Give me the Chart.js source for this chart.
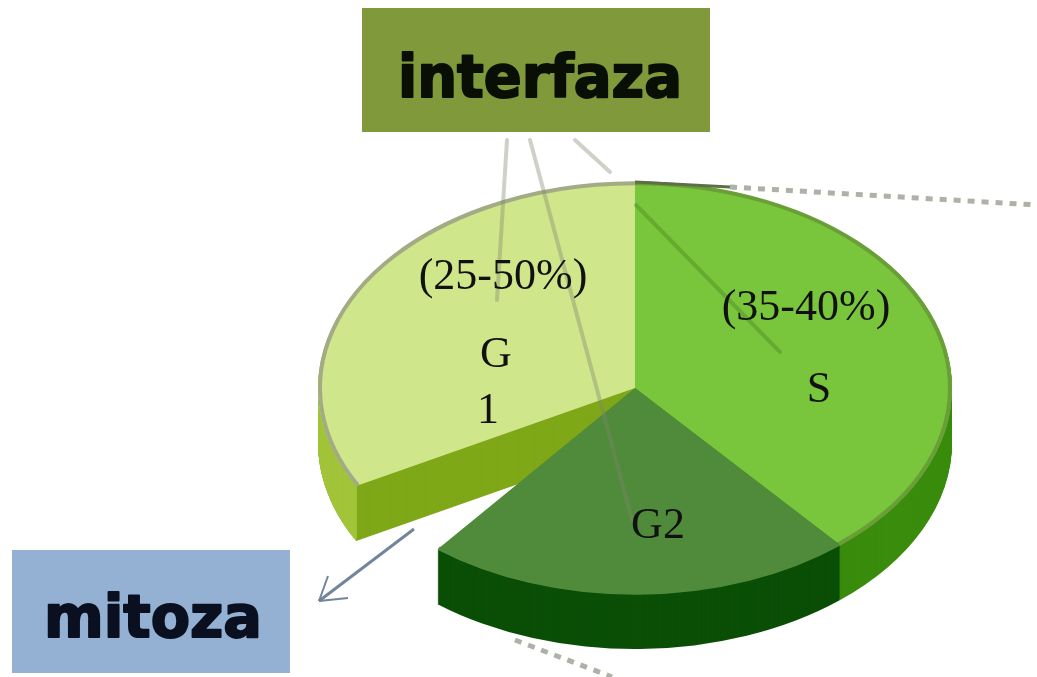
<!DOCTYPE html>
<html>
<head>
<meta charset="utf-8">
<title>interfaza / mitoza</title>
<script src="https://cdn.jsdelivr.net/npm/chart.js@4"></script>
<style>
    html, body { margin: 0; padding: 0; background: #fff; }
    canvas { display: block; filter: blur(0.7px); }
</style>
</head>
<body>
<canvas id="phases" width="1037" height="677"></canvas>
<script>
// data (share of the circle, clockwise from the top)
const phases = ['S', 'G2', 'mitoza', 'G1'];
const shares = [38.8, 21.9, 6.4, 32.9];

const topColors = ['#79c63d', '#4f8b3a', 'rgba(0,0,0,0)', '#cfe68b'];
const wallColors = ['#3a8c0c', '#0b4f07', null, '#7fa818'];
const rimColors = ['#6a9f38', '#4f8b3a', null, '#a3ab84'];
const g1OuterWall = '#a2c43a';

// the flat pie gets squashed and moved here, so it looks tilted
const pieX = 635;
const pieY = 388;
const squash = 206 / 317;
const depth = 55;

function tilt(ctx, arc, drop) {
    ctx.translate(pieX, pieY + drop);
    ctx.scale(1, squash);
    ctx.translate(-arc.x, -arc.y);
}

function sector(ctx, arc) {
    const p = arc.getProps(['x', 'y', 'startAngle', 'endAngle', 'outerRadius']);
    ctx.beginPath();
    ctx.moveTo(p.x, p.y);
    ctx.arc(p.x, p.y, p.outerRadius, p.startAngle, p.endAngle);
    ctx.closePath();
}

function stack(ctx, arc, color) {
    ctx.fillStyle = color;
    for (let drop = depth; drop > 0; drop--) {
        ctx.save();
        tilt(ctx, arc, drop);
        sector(ctx, arc);
        ctx.fill();
        ctx.restore();
    }
}

function line(ctx, x1, y1, x2, y2) {
    ctx.beginPath();
    ctx.moveTo(x1, y1);
    ctx.lineTo(x2, y2);
    ctx.stroke();
}

const tiltedPie = {
    id: 'tiltedPie',
    beforeDatasetsDraw(chart) {
        const ctx = chart.ctx;
        const arcs = chart.getDatasetMeta(0).data;

        // side walls: G1 first because it sits behind the others
        [3, 0, 1].forEach((i) => stack(ctx, arcs[i], wallColors[i]));

        // the outer part of the G1 wall is lighter than its cut face
        const g1 = arcs[3].getProps(['startAngle', 'outerRadius']);
        const cornerX = pieX + g1.outerRadius * Math.cos(g1.startAngle);
        ctx.save();
        ctx.beginPath();
        ctx.rect(0, 0, cornerX, chart.height);
        ctx.clip();
        stack(ctx, arcs[3], g1OuterWall);
        ctx.restore();

        ctx.save();
        tilt(ctx, arcs[0], 0);
    },
    afterDatasetsDraw(chart) {
        const ctx = chart.ctx;
        const arcs = chart.getDatasetMeta(0).data;
        ctx.restore();

        // rim on the top face
        arcs.forEach((arc, i) => {
            if (!rimColors[i]) return;
            ctx.save();
            tilt(ctx, arc, 0);
            const p = arc.getProps(['x', 'y', 'startAngle', 'endAngle', 'outerRadius']);
            ctx.beginPath();
            ctx.arc(p.x, p.y, p.outerRadius - 2, p.startAngle, p.endAngle);
            ctx.restore();
            ctx.strokeStyle = rimColors[i];
            ctx.lineWidth = 4;
            ctx.stroke();
        });
    }
};

const annotations = {
    id: 'annotations',
    afterDraw(chart) {
        const ctx = chart.ctx;
        ctx.save();

        // leader lines from the interfaza box
        ctx.lineCap = 'round';
        ctx.lineWidth = 4;
        ctx.strokeStyle = 'rgba(125,135,110,0.38)';
        line(ctx, 507, 140, 497, 300);
        line(ctx, 530, 140, 632, 520);
        line(ctx, 575, 140, 610, 172);
        ctx.strokeStyle = 'rgba(70,130,30,0.4)';
        line(ctx, 636, 205, 780, 352);

        // dotted lines running out of the picture
        ctx.lineCap = 'butt';
        ctx.strokeStyle = '#5f6d48';
        ctx.lineWidth = 3;
        line(ctx, 635, 182, 730, 187);
        ctx.lineWidth = 5;
        ctx.setLineDash([7, 7]);
        ctx.strokeStyle = '#aeb1a8';
        line(ctx, 730, 187, 1037, 205);
        line(ctx, 515, 640, 612, 677);
        ctx.setLineDash([]);

        // arrow towards the mitoza box
        ctx.lineWidth = 3;
        ctx.strokeStyle = '#72859a';
        line(ctx, 414, 529, 319, 601);
        ctx.lineWidth = 2;
        line(ctx, 319, 601, 328, 576);
        line(ctx, 319, 601, 348, 598);

        // boxes
        ctx.fillStyle = '#80993a';
        ctx.fillRect(362, 8, 348, 124);
        ctx.fillStyle = '#94b1d3';
        ctx.fillRect(12, 550, 278, 123);

        ctx.textAlign = 'center';
        ctx.textBaseline = 'alphabetic';
        ctx.lineJoin = 'round';
        ctx.lineWidth = 2;
        ctx.font = 'bold 58px "DejaVu Sans"';
        ctx.fillStyle = ctx.strokeStyle = '#0a0f06';
        ctx.fillText('interfaza', 540, 97, 284);
        ctx.strokeText('interfaza', 540, 97, 284);
        ctx.fillStyle = ctx.strokeStyle = '#0a1020';
        ctx.fillText('mitoza', 153, 637, 218);
        ctx.strokeText('mitoza', 153, 637, 218);

        // slice labels
        ctx.font = '44px "Liberation Serif"';
        ctx.fillStyle = '#111';
        ctx.fillText('(25-50%)', 503, 289);
        ctx.fillText('G', 496, 367);
        ctx.fillText('1', 488, 423);
        ctx.fillText('(35-40%)', 806, 320);
        ctx.fillText('S', 819, 402);
        ctx.fillText('G2', 658, 538);

        ctx.restore();
    }
};

new Chart(document.getElementById('phases').getContext('2d'), {
    type: 'pie',
    data: {
        labels: phases,
        datasets: [{
            data: shares,
            backgroundColor: topColors,
            borderWidth: 0,
            clip: false
        }]
    },
    options: {
        responsive: false,
        animation: false,
        layout: {
            padding: { left: 318, right: 85, top: 21, bottom: 22 }
        },
        plugins: {
            legend: { display: false },
            title: { display: false },
            tooltip: { enabled: false }
        }
    },
    plugins: [tiltedPie, annotations]
});
</script>
</body>
</html>
